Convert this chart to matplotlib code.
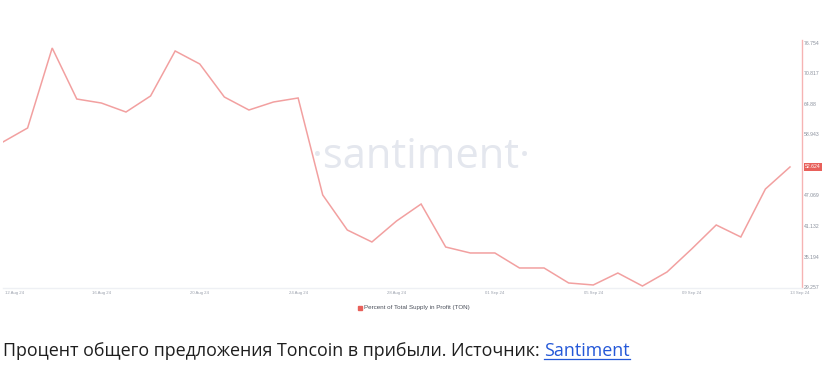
import matplotlib
matplotlib.use("Agg")
import matplotlib.pyplot as plt
import matplotlib.dates as mdates
import matplotlib.transforms as mtransforms
import numpy as np
import pandas as pd

# ---- data ----
dates = pd.date_range("2024-08-12", "2024-09-13", freq="D")
supply_in_profit = [
    57.49, 60.21, 75.78, 65.85, 65.07, 63.32, 66.44, 75.20, 72.67, 66.24,
    63.71, 65.27, 66.05, 47.17, 40.35, 38.02, 42.10, 45.41, 37.04, 35.88,
    35.88, 32.96, 32.96, 30.04, 29.65, 31.98, 29.45, 32.18, 36.65, 41.33,
    38.99, 48.33, 52.624,
]
y_ticks = [29.257, 35.194, 41.132, 47.069, 53.006, 58.943, 64.88, 70.817, 76.754]
y_tick_labels = ["29.257", "35.194", "41.132", "47.069", "", "58.943", "64.88", "70.817", "76.754"]
x_tick_dates = pd.to_datetime(["2024-08-12", "2024-08-16", "2024-08-20", "2024-08-24",
                               "2024-08-28", "2024-09-01", "2024-09-05", "2024-09-09",
                               "2024-09-13"])
x_tick_labels = ["12 Aug 24", "16 Aug 24", "20 Aug 24", "24 Aug 24", "28 Aug 24",
                 "01 Sep 24", "05 Sep 24", "09 Sep 24", "13 Sep 24"]
series_name = "Percent of Total Supply in Profit (TON)"
last_label = "52.624"
caption_main = "Процент общего предложения Toncoin в прибыли. Источник: "
caption_link = "Santiment"

W, H = 828, 389
fig = plt.figure(figsize=(W / 100, H / 100), dpi=100)
fig.patch.set_facecolor("white")
small_font = "Liberation Sans"

# axes in pixel coordinates
left_px, right_px, top_px, bottom_px = 3, 802, 40, 288
ax = fig.add_axes([left_px / W, 1 - bottom_px / H, (right_px - left_px) / W, (bottom_px - top_px) / H])

px_per_unit = 30.5 / 5.937
ax.set_ylim(29.257 - 1 / px_per_unit, 76.754 + 3 / px_per_unit)
x0 = mdates.date2num(dates[0])
x1 = mdates.date2num(dates[-1])
px_per_day = (790 - left_px) / (x1 - x0)
ax.set_xlim(x0, x1 + (right_px - 790) / px_per_day)

line_color = "#f2a0a0"
ax.plot(dates, supply_in_profit, color=line_color, lw=1.1, zorder=3, solid_joinstyle="miter")

# watermark
ax.text(0.523, 0.53, "·santiment·", transform=ax.transAxes, ha="center", va="center",
        fontsize=30, color="#e4e7ee", family="Open Sans", zorder=1)

for s in ["top", "left"]:
    ax.spines[s].set_visible(False)
ax.spines["right"].set_color("#f6b3b3")
ax.spines["right"].set_linewidth(1.0)
ax.spines["bottom"].set_color("#eef0f4")
ax.spines["bottom"].set_linewidth(1.0)

ax.yaxis.tick_right()
ax.set_yticks(y_ticks)
ax.set_yticklabels(y_tick_labels, family=small_font)
ax.tick_params(axis="y", length=0, pad=1.5, labelsize=3.7, labelcolor="#8a909c")
ax.set_xticks(mdates.date2num(x_tick_dates))
ax.set_xticklabels(x_tick_labels, family=small_font)
ax.tick_params(axis="x", length=0, pad=2.2, labelsize=3.1, labelcolor="#9aa0ac")
xl = ax.get_xticklabels()
xl[0].set_horizontalalignment("left")
xl[0].set_transform(xl[0].get_transform() + mtransforms.ScaledTranslation(2 / 100, 0, fig.dpi_scale_trans))
xl[-1].set_transform(xl[-1].get_transform() + mtransforms.ScaledTranslation(10 / 100, 0, fig.dpi_scale_trans))

# last value label
ax.annotate(last_label, xy=(1, supply_in_profit[-1]), xycoords=("axes fraction", "data"),
            xytext=(2.2, 0), textcoords="offset points", ha="left", va="center",
            fontsize=3.7, color="white", family=small_font,
            bbox=dict(boxstyle="square,pad=0.3", fc="#e8605a", ec="none"))

# legend
fig.patches.append(plt.Rectangle((358.5 / W, 1 - 309.5 / H), 4 / W, 4 / H,
                                 transform=fig.transFigure, color="#e8605a"))
fig.text(364.5 / W, 1 - 307.5 / H, series_name, ha="left", va="center",
         fontsize=4.5, color="#4a4f5a", family=small_font)

# caption
fs_cap = 12.9
t1 = fig.text(3 / W, 1 - 356 / H, caption_main, ha="left", va="baseline",
              fontsize=fs_cap, color="#1e1e1e", family="Open Sans")
fig.canvas.draw()
r = fig.canvas.get_renderer()
bb = t1.get_window_extent(r)
t2 = fig.text(bb.x1 / W, 1 - 356 / H, caption_link, ha="left", va="baseline",
              fontsize=fs_cap, color="#2458d8", family="Open Sans")
fig.canvas.draw()
bb2 = t2.get_window_extent(r)
uy = 1 - 358.5 / H
fig.add_artist(plt.Line2D([bb2.x0 / W, bb2.x1 / W], [uy, uy], color="#2458d8", lw=0.9,
                          transform=fig.transFigure))

fig.savefig("out.png", dpi=100, facecolor="white")
